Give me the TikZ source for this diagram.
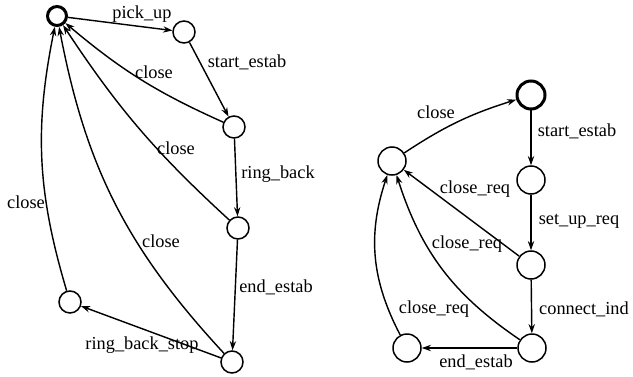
\documentclass[tikz,border=0pt]{standalone}
\usepackage{fontspec}
\setmainfont{Liberation Serif}
\usepackage{tikz}
\usetikzlibrary{arrows.meta}
\tikzset{
  >={Stealth[length=5.5pt,width=3.8pt]},
  every node/.style={font=\fontsize{11}{13}\selectfont,text=black},
  lstate/.style={circle,draw,line width=0.9pt,minimum size=13.2pt,inner sep=0pt},
  rstate/.style={lstate,minimum size=16.8pt},
  initstate/.style={line width=1.8pt},
  trans/.style={->,line width=0.85pt},
  lbl/.style={inner sep=0pt}
}
\begin{document}
\begin{tikzpicture}[x=0.6pt,y=0.6pt]
  \useasboundingbox (0,0) rectangle (633,376);

  \node[lstate,initstate,minimum size=11.4pt] (c0) at (57,360) {};
  \node[lstate] (c1) at (184,344) {};
  \node[lstate] (c2) at (234,249) {};
  \node[lstate] (c3) at (238,148) {};
  \node[lstate] (c4) at (232,14) {};
  \node[lstate] (c5) at (70,74) {};

  \draw[trans] (c0) -- (c1);
  \draw[trans] (c1) -- (c2);
  \draw[trans] (c2) -- (c3);
  \draw[trans] (c3) -- (c4);
  \draw[trans] (c4) -- (c5);
  \draw[trans] (c2) to[bend left=8] (c0);
  \draw[trans] (c3) to[bend left=7] (c0);
  \draw[trans] (c4) to[bend left=16] (c0);
  \draw[trans] (c5) to[bend left=14] (c0);

  \node[lbl] (lpick) at (142,362) {pick\_up};
  \node[lbl] (lstart) at (247,314) {start\_estab};
  \node[lbl] (lclosea) at (154,304) {close};
  \node[lbl] (lcloseb) at (176,228) {close};
  \node[lbl] (lring) at (278,202) {ring\_back};
  \node[lbl] (lclosed) at (26,174) {close};
  \node[lbl] (lclosec) at (161,135) {close};
  \node[lbl] (lend) at (276,89) {end\_estab};
  \node[lbl] (lstop) at (142,31) {ring\_back\_stop};

  \node[rstate,initstate] (d0) at (531,281) {};
  \node[rstate] (d1) at (531,196) {};
  \node[rstate] (d2) at (531,111) {};
  \node[rstate] (d3) at (532,28) {};
  \node[rstate] (d4) at (407,28) {};
  \node[rstate] (d5) at (392,215) {};

  \draw[trans] (d5) to[bend left=8] (d0);
  \draw[trans] (d0) -- (d1);
  \draw[trans] (d1) -- (d2);
  \draw[trans] (d2) -- (d3);
  \draw[trans] (d3) -- (d4);
  \draw[trans] (d2) -- (d5);
  \draw[trans] (d3) to[bend left=19] (d5);
  \draw[trans] (d4) to[bend left=23] (d5);

  \node[lbl] (rclose) at (436,264) {close};
  \node[lbl] (rstart) at (577,245) {start\_estab};
  \node[lbl] (rreqa) at (475,187) {close\_req};
  \node[lbl] (rsetup) at (579,155) {set\_up\_req};
  \node[lbl] (rreqb) at (467,132) {close\_req};
  \node[lbl] (rreqc) at (434,67) {close\_req};
  \node[lbl] (rconn) at (584,67) {connect\_ind};
  \node[lbl] (rend) at (476,14) {end\_estab};
\end{tikzpicture}
\end{document}
